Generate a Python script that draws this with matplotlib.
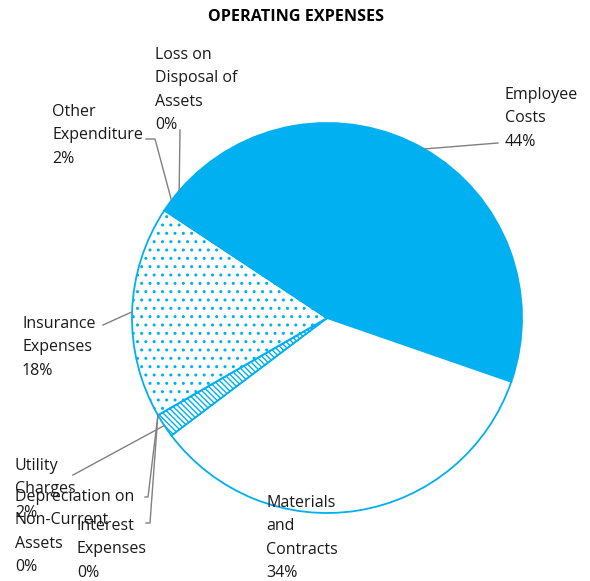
from matplotlib import pyplot as plt
import numpy as np

plt.rcParams['font.family'] = ['Open Sans', 'DejaVu Sans']
plt.rcParams['hatch.linewidth'] = 1.0

categories = ['Employee Costs', 'Materials and Contracts', 'Utility Charges',
              'Interest Expenses', 'Depreciation on Non-Current Assets',
              'Insurance Expenses', 'Other Expenditure', 'Loss on Disposal of Assets']
values = [44.0, 34.4, 2.0, 0.0, 0.0, 17.6, 2.0, 0.0]
label_text = ['Employee\nCosts', 'Materials\nand\nContracts', 'Utility\nCharges',
              'Interest\nExpenses', 'Depreciation on\nNon-Current\nAssets',
              'Insurance\nExpenses', 'Other\nExpenditure', 'Loss on\nDisposal of\nAssets']

blue = '#00B0F0'
W, H = 590, 581
fig = plt.figure(figsize=(5.9, 5.81), dpi=100)
ax = fig.add_axes([0, 0, 1, 1])
ax.set_xlim(0, W)
ax.set_ylim(0, H)
ax.set_aspect('equal')
ax.axis('off')

cx, cy, r = 327, H - 318, 195
start = 139.3
wedges, _ = ax.pie(values, center=(cx, cy), radius=r, startangle=start,
                   counterclock=False, colors=['white'] * len(values),
                   wedgeprops=dict(edgecolor=blue, linewidth=1.3))
styles = [dict(fc=blue, hatch=None), dict(fc='white', hatch=None),
          dict(fc='white', hatch='\\\\\\\\\\\\'), dict(fc='white', hatch=None),
          dict(fc='white', hatch=None), dict(fc='white', hatch='..'),
          dict(fc=blue, hatch=None), dict(fc='white', hatch=None)]
for w, s in zip(wedges, styles):
    w.set_facecolor(s['fc'])
    if s['hatch']:
        w.set_hatch(s['hatch'])
        w.set_edgecolor(blue)

ax.set_xlim(0, W)
ax.set_ylim(0, H)

# label placement (pixel coords, top-left) and leader elbow points
text_pos = [(505, 87), (266, 495), (15, 458), (77, 518), (15, 489),
            (22, 316), (52, 104), (155, 47)]
elbows = [[(498, 143)], None, [(73, 475)], [(150, 523), (146, 523)],
          [(148, 497), (145, 497)], [(103, 325)], [(155, 139), (146, 139)],
          [(180, 130)]]

def pct(v):
    return f"{v:.0f}%"

for w, v, lab, (tx, ty), el in zip(wedges, values, label_text, text_pos, elbows):
    ax.text(tx, H - ty, lab + '\n' + pct(v), ha='left', va='top',
            fontsize=11.5, linespacing=1.62, color='#1a1a1a')
    if el:
        mid = np.deg2rad((w.theta1 + w.theta2) / 2)
        px, py = cx + r * np.cos(mid), cy + r * np.sin(mid)
        xs = [px] + [e[0] for e in el]
        ys = [py] + [H - e[1] for e in el]
        ax.plot(xs, ys, color='#808080', lw=1.0)

fig.text(296 / W, 1 - 17 / H, 'OPERATING EXPENSES', ha='center', va='center',
         fontsize=11.6, fontweight='bold', color='black')

plt.savefig('out.png', dpi=100)
